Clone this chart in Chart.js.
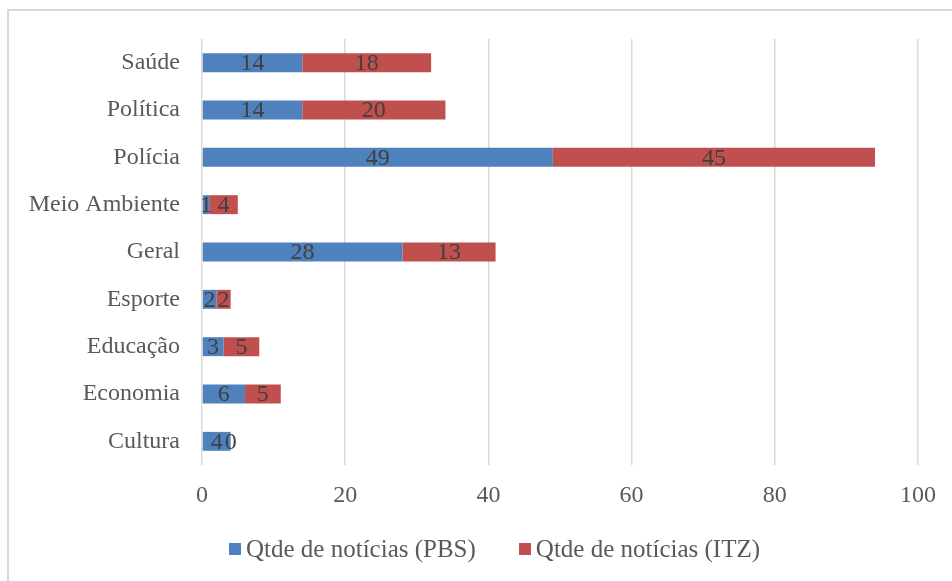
<!DOCTYPE html>
<html><head><meta charset="utf-8">
<script src="https://cdn.jsdelivr.net/npm/chart.js@4.4.1/dist/chart.umd.min.js"></script>
<style>
html,body{margin:0;padding:0;background:#fff;width:952px;height:581px;overflow:hidden;}
#frame{position:absolute;left:7px;top:9px;width:980px;height:600px;border:2px solid #d9d9d9;box-sizing:border-box;}
#wrap{position:absolute;left:0;top:0;width:952px;height:581px;}
#legend{position:absolute;left:229px;top:533px;height:32px;display:flex;align-items:center;font-family:'Liberation Serif',serif;font-size:25px;color:#595959;white-space:nowrap;}
#legend .item{display:flex;align-items:center;margin-right:43px;}
#legend .box{width:12px;height:12px;margin-right:5px;}
</style></head>
<body>
<div id="frame"></div>
<div id="wrap"><canvas id="c" width="952" height="581"></canvas></div>
<div id="legend"></div>
<script>
const categories = ['Saúde','Política','Polícia','Meio Ambiente','Geral','Esporte','Educação','Economia','Cultura'];
const pbsValues = [14,14,49,1,28,2,3,6,4];
const itzValues = [18,20,45,4,13,2,5,5,0];
const seriesNames = ['Qtde de notícias (PBS)','Qtde de notícias (ITZ)'];
const seriesColors = ['#4f81bd','#c0504d'];
const FONT = "'Liberation Serif', serif";

const valueLabels = {
  id:'valueLabels',
  afterDatasetsDraw(chart){
    const ctx = chart.ctx;
    ctx.save();
    ctx.font = '24px ' + FONT;
    ctx.fillStyle = '#404040';
    ctx.textAlign = 'center';
    ctx.textBaseline = 'middle';
    chart.data.datasets.forEach((ds,i)=>{
      const meta = chart.getDatasetMeta(i);
      meta.data.forEach((el,j)=>{
        const p = el.getProps(['x','y','base'],true);
        const cx = (p.x + p.base)/2;
        ctx.fillText(String(ds.data[j]), cx, p.y+1);
      });
    });
    ctx.restore();
  }
};

const chart = new Chart(document.getElementById('c'),{
  type:'bar',
  data:{
    labels:categories,
    datasets:[
      {label:seriesNames[0],data:pbsValues,backgroundColor:seriesColors[0],categoryPercentage:0.8,barPercentage:0.5},
      {label:seriesNames[1],data:itzValues,backgroundColor:seriesColors[1],categoryPercentage:0.8,barPercentage:0.5}
    ]
  },
  options:{
    indexAxis:'y',
    responsive:false,
    animation:false,
    layout:{padding:{left:0,right:34,top:39,bottom:0}},
    scales:{
      x:{
        stacked:true,min:0,max:100,
        afterFit(s){s.height=116;},
        ticks:{stepSize:20,color:'#595959',font:{family:FONT,size:24},padding:16},
        grid:{color:'#d9d9d9',lineWidth:1.5,drawTicks:false},
        border:{display:false}
      },
      y:{
        stacked:true,
        afterFit(s){s.width=202;},
        ticks:{color:'#595959',font:{family:FONT,size:24},padding:22},
        grid:{display:false,drawTicks:false},
        border:{display:false}
      }
    },
    plugins:{
      legend:{display:false},
      tooltip:{enabled:false}
    }
  },
  plugins:[valueLabels]
});

const leg = document.getElementById('legend');
chart.data.datasets.forEach(ds=>{
  const it = document.createElement('div'); it.className='item';
  const b = document.createElement('div'); b.className='box'; b.style.background=ds.backgroundColor;
  const t = document.createElement('span'); t.textContent=ds.label;
  it.appendChild(b); it.appendChild(t); leg.appendChild(it);
});
</script>
</body></html>
